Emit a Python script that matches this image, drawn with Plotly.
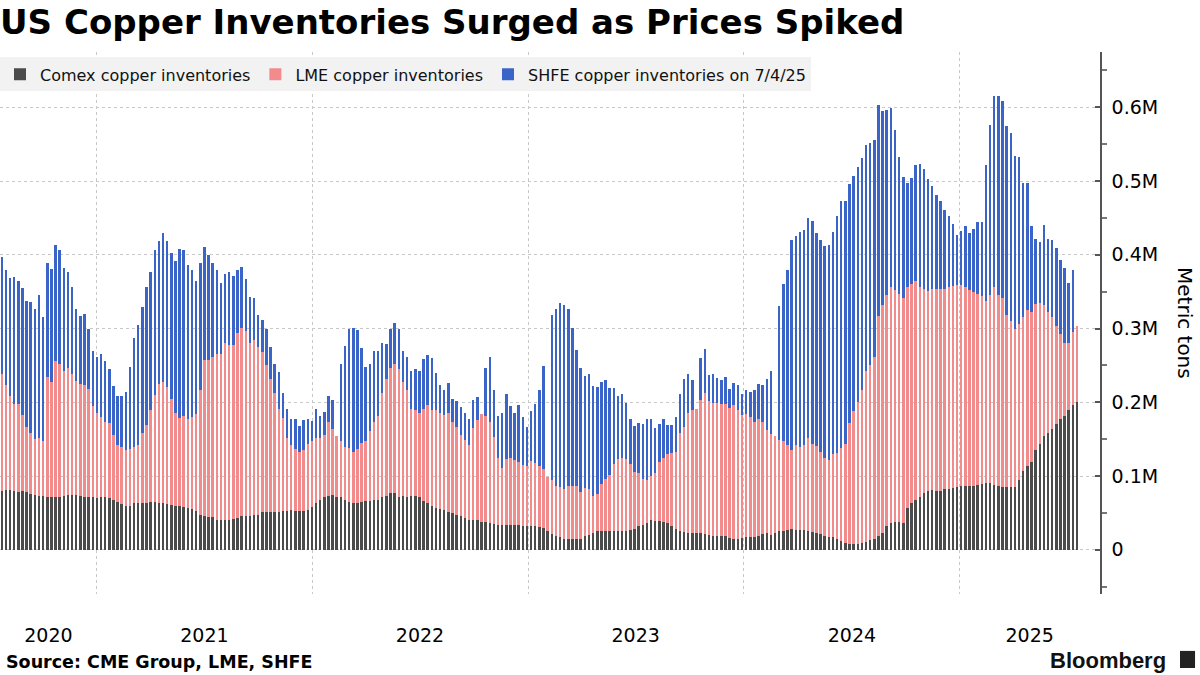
import pandas as pd
import plotly.graph_objects as go

# weekly stocks, thousand metric tons
weeks = pd.date_range("2020-07-24", periods=261, freq="7D")

comex = [
    80, 81, 81, 80, 79, 80, 78, 76, 74, 73, 73, 72, 71, 71, 71, 73, 74, 74, 74, 73, 72, 72, 71, 70,
    71, 71, 70, 68, 65, 62, 59, 59, 63, 64, 64, 64, 65, 65, 64, 63, 62, 61, 60, 59, 58, 57, 55, 52,
    47, 46, 45, 44, 41, 41, 41, 41, 42, 43, 46, 46, 46, 47, 47, 51, 51, 51, 51, 51, 52, 53, 54, 53,
    53, 53, 54, 58, 63, 68, 71, 73, 74, 72, 71, 68, 65, 64, 64, 65, 66, 66, 68, 68, 71, 73,
    77, 77, 72, 73, 72, 73, 73, 71, 66, 63, 59, 57, 55, 54, 51, 50, 47, 46, 43, 41, 41, 41, 38, 37,
    36, 35, 34, 33, 34, 34, 33, 33, 32, 32, 32, 32, 31, 29, 25, 21, 19, 17, 15, 14, 14, 14,
    14, 18, 20, 23, 25, 26, 26, 26, 26, 26, 26, 26, 27, 28, 32, 34, 36, 41, 39, 39, 38, 36, 32, 28,
    26, 24, 23, 23, 23, 23, 22, 20, 19, 19, 19, 18, 16, 14, 14, 16, 17, 17, 17, 19, 21, 23,
    20, 23, 26, 26, 27, 28, 27, 27, 27, 26, 24, 23, 21, 18, 17, 17, 14, 12, 9, 8, 8, 8, 9, 11,
    13, 14, 19, 23, 32, 36, 37, 37, 36, 56, 63, 68, 72, 77, 80, 81, 80, 80, 82, 83, 84, 85, 86,
    86, 86, 86, 88, 89, 90, 90, 88, 86, 85, 85, 85, 85, 95, 107, 113, 119, 135, 144, 154, 159,
    164, 170, 178, 182, 189, 196, 200,
]

lme = [
    159, 142, 128, 118, 118, 103, 89, 83, 76, 79, 74, 162, 156, 185, 181, 170, 172, 164, 155, 152,
    152, 146, 124, 116, 109, 102, 102, 88, 77, 77, 76, 77, 77, 78, 94, 105, 124, 145, 161, 164,
    159, 143, 125, 120, 123, 121, 125, 132,
    169, 211, 213, 218, 224, 225, 239, 237, 235, 251, 255, 251, 235, 238, 228, 217, 200, 181, 162,
    140, 127, 99, 88, 83, 79, 82, 89, 90, 88, 83, 85, 100, 90, 82, 76, 72, 73, 69, 73, 80, 82, 95,
    105, 114, 141, 159,
    170, 175, 173, 155, 144, 118, 117, 114, 125, 133, 131, 132, 131, 129, 134, 123, 120, 109, 106,
    101, 124, 135, 146, 145, 137, 118, 90, 78, 89, 91, 89, 86, 83, 81, 88, 86, 82, 80, 74, 73, 67,
    68, 67, 72, 73, 72,
    64, 66, 62, 50, 50, 63, 70, 76, 90, 97, 98, 97, 89, 78, 72, 62, 59, 59, 65, 80, 87, 94, 99, 104,
    132, 143, 162, 167, 168, 180, 191, 182, 180, 180, 179, 179, 176, 182, 176, 167, 167, 163, 156,
    158, 152, 140,
    137, 131, 123, 121, 115, 107, 115, 113, 115, 125, 120, 118, 112, 106, 105, 113, 117, 126, 134,
    164, 180, 193, 207, 231, 237, 247, 298, 309, 314, 320, 315, 310, 305, 300, 297, 297, 284, 277,
    271, 273, 273, 274, 272, 273, 274, 274, 273,
    271, 266, 263, 259, 255, 248, 256, 268, 260, 257, 234, 225, 215, 211, 209, 212, 204, 198, 191,
    178, 163, 151, 134, 115, 99, 92, 99, 103,
]

# None = no SHFE reading that week
shfe = [
    158, 157, 159, 172, 168, 172, 170, 177, 177, 194, 169, 155, 154, 157, 155, 139, 131, 119, 98, 92,
    96, 81, 74, 75, 86, 83, 73, 66, 67, 69, 79, 112, 147, 163, 171, 188, 188, 196, 194, 202, 198,
    198, 207, 229, 225, 208, 200, 180,
    173, 153, 142, 127, 114, 96, 94, 98, 94, 85, 82, 70, 62, 57, 43, 43, 48, 43, 39, 50, 34, 39, 35,
    42, 36, 41, 34, 27, 40, 30, 31, 35, 39, None, 105, 136, 161, 168, 161, 129, 100, 91, 96, 88, 68,
    47,
    52, 55, 55, 42, 45, 51, 55, 57, 68, 68, 70, 51, 37, 34, 41, 31, 35, 38, 36, 36, 38, 31, None, 64,
    89, 63, 57, 75, 88, 70, 64, 77, 65, 54, 68, 80, 104, 140, None, 225, 241, 249, 250, 240, 214, 185,
    169, 152, 156, 149, 146, 138, 134, 118, 103, 86, 87, 76, 61, 62, 68, 75, 82, 78, 61, 52, 52, 39,
    38, 48, 53, 64, 54, 40, None, 57, 59, 35, 39, 34, 32, 37, 26, 30, 34, 28, 32, 34, 43, 48, 51, 69,
    86, None, 182, 214, 238, 285, 284, 291, 292, 299, 302, 288, 287, 288, 291, 301, 321, 335, 330,
    324, 319, 318, 315, 307, 301, 294, 286, 263, 250, 243, 217, 186, 164, 142, 144, 157, 167, 162,
    152, 139, 128, 119, 107, 96, 84, 68, 73,
    82, 77, 86, 97, 101, 184, 230, 259, 269, 267, 255, 255, 234, 226, 182, 172, 116, 89, 82, 108,
    100, 105, 105, 100, 101, 81, 85, None,
]

series_names = ["Comex copper inventories", "LME copper inventories",
                "SHFE copper inventories on 7/4/25"]
series_colors = ["#4b4b4b", "#f28b8b", "#3b64c9"]

year_starts = ["2021-01-01", "2022-01-01", "2023-01-01", "2024-01-01", "2025-01-01"]
year_label_pos = ["2020-10-11", "2021-07-02", "2022-07-02", "2023-07-02", "2024-07-02", "2025-04-29"]
year_labels = ["2020", "2021", "2022", "2023", "2024", "2025"]

y_ticks = [0, 100, 200, 300, 400, 500, 600]
y_tick_text = ["0", "0.1M", "0.2M", "0.3M", "0.4M", "0.5M", "0.6M"]

FONT = "DejaVu Sans"
GRID = "#c8c8c8"

fig = go.Figure()
for name, vals, color in zip(series_names, [comex, lme, shfe], series_colors):
    fig.add_trace(go.Bar(
        x=weeks, y=vals, name=name,
        marker=dict(color=color, line=dict(width=0)),
    ))

fig.update_layout(
    width=1200, height=675,
    margin=dict(l=0, r=100, t=52, b=81),
    paper_bgcolor="white", plot_bgcolor="white",
    barmode="stack", bargap=0.4,
    font=dict(family=FONT, color="#111", size=16),
    title=dict(
        text="US Copper Inventories Surged as Prices Spiked",
        x=0.0, xanchor="left", y=0.967, yanchor="middle",
        font=dict(family=FONT, size=34, weight="bold", color="#000"),
    ),
    legend=dict(
        orientation="h", x=0, xanchor="left", y=0.99, yanchor="top",
        bgcolor="#f2f2f2", traceorder="normal",
        font=dict(family=FONT, size=16, color="#111"),
    ),
    xaxis=dict(
        type="date", range=["2020-07-21", "2025-08-26"],
        tickmode="array", tickvals=year_label_pos, ticktext=year_labels,
        ticks="outside", ticklen=24, tickcolor="rgba(0,0,0,0)",
        showgrid=False, zeroline=False, showline=False,
        tickfont=dict(family=FONT, size=19, color="#000"),
        minor=dict(tickmode="array", tickvals=year_starts, showgrid=True,
                   gridcolor=GRID, griddash="dot", gridwidth=1, ticks=""),
    ),
    yaxis=dict(
        side="right", range=[-60, 675],
        tickmode="array", tickvals=y_ticks, ticktext=y_tick_text,
        showgrid=True, gridcolor=GRID, griddash="dot", gridwidth=1,
        zeroline=False, showline=True, linecolor="#555", linewidth=1.5,
        ticks="inside", ticklen=5, tickwidth=2, tickcolor="#555",
        ticklabelstandoff=6,
        tickfont=dict(family=FONT, size=19, color="#000"),
        minor=dict(tickmode="linear", tick0=50, dtick=100, ticks="outside",
                   ticklen=5, tickcolor="#777", showgrid=False),
    ),
)

fig.add_annotation(
    text="Metric tons", textangle=90, xref="paper", yref="paper",
    x=1.09, y=0.5, showarrow=False,
    font=dict(family=FONT, size=20, color="#000"),
)
fig.add_annotation(
    text="Source: CME Group, LME, SHFE", xref="paper", yref="paper",
    x=0.004, y=-0.1255, xanchor="left", yanchor="middle", showarrow=False,
    font=dict(family=FONT, size=17.5, weight="bold", color="#000"),
)
fig.add_annotation(
    text="Bloomberg", xref="paper", yref="paper",
    x=1.062, y=-0.1236, xanchor="right", yanchor="middle", showarrow=False,
    font=dict(family="Liberation Sans", size=22, weight="bold", color="#111"),
)
# little logo tile next to the wordmark
fig.add_shape(type="rect", xref="paper", yref="paper",
              x0=1.0727, x1=1.0864, y0=-0.1365, y1=-0.105,
              fillcolor="#222", line=dict(width=0))

# page body has an 8px default margin; drop it so the figure sits at 0,0
fig.write_html("out.html", config={"displayModeBar": False},
               post_script="document.body.style.margin='0';")
